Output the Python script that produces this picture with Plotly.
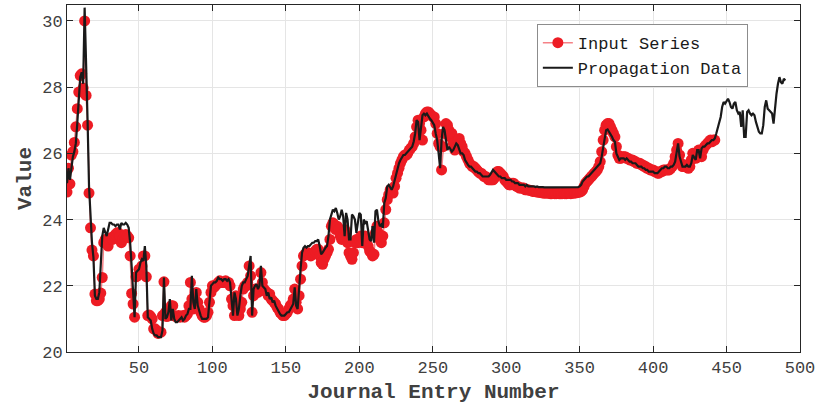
import plotly.graph_objects as go

input_series = [
    24.83, 25.55, 25.08, 25.95, 26.05, 26.33, 26.8, 27.35, 27.85, 28.35,
    28.4, 27.97, 30.0, 27.75, 26.85, 24.8, 23.75, 23.08, 22.9, 21.75,
    21.55, 21.55, 21.6, 21.78, 22.25, 23.3, 23.4, 23.3, 23.2, 23.4,
    23.45, 23.4, 23.5, 23.55, 23.6, 23.6, 23.5, 23.3, 23.4, 23.5,
    23.55, 23.5, 23.45, 22.9, 21.77, 21.45, 21.05, 22.27, 22.3, 22.5,
    22.5, 22.6, 22.9, 22.9, 22.27, 21.1, 21.12, 21.07, 21.0, 20.7,
    20.7, 20.65, 20.56, 20.6, 20.6, 21.1, 22.12, 21.2, 21.07, 21.1,
    21.2, 21.4, 21.4, 21.1, 21.07, 21.07, 21.1, 21.05, 21.07, 21.1,
    21.05, 21.1, 21.15, 21.4, 22.1, 21.6, 21.3, 21.6, 21.8, 21.5,
    21.3, 21.2, 21.1, 21.05, 21.05, 21.1, 21.2, 21.5, 21.8, 22.0,
    21.95, 22.0, 22.05, 22.1, 22.15, 22.1, 22.1, 22.1, 22.15, 22.1,
    22.1, 22.0, 21.6, 21.4, 21.1, 21.7, 21.6, 21.1, 21.3, 21.5,
    21.9, 22.0, 22.0, 22.1, 22.6, 22.3, 21.2, 21.7, 21.9, 21.9,
    21.8, 21.85, 22.4, 22.1, 21.9, 21.85, 21.8, 21.7, 21.75, 21.6,
    21.55, 21.5, 21.45, 21.35, 21.3, 21.2, 21.15, 21.1, 21.1, 21.15,
    21.2, 21.3, 21.4, 21.45, 21.6, 21.9, 21.5, 21.3, 21.7, 22.2,
    22.6, 22.9, 22.95, 23.0, 23.0, 22.95, 22.9, 22.95, 23.0, 23.05,
    23.1, 23.1, 22.9, 22.7, 22.65, 22.8, 22.9, 23.0, 23.1, 23.4,
    23.8, 23.9, 23.85, 23.7, 23.8, 23.7, 23.5, 23.4, 23.5, 23.7,
    23.6, 23.3, 23.0, 22.9, 22.8, 23.0, 23.3, 23.4, 23.3, 23.4,
    23.5, 23.3, 23.4, 23.5, 23.4, 23.2, 23.05, 23.0, 22.9, 22.95,
    23.6, 23.8, 23.6, 23.4, 23.3, 23.5, 23.9, 24.3, 24.6, 24.75,
    24.9, 24.85, 24.8, 25.0, 25.25, 25.4, 25.55, 25.7, 25.8, 25.9,
    25.95, 25.95, 26.0, 26.1, 26.15, 26.2, 26.3, 26.5, 26.8, 27.0,
    26.9, 26.7, 26.4, 27.1, 27.2, 27.25, 27.25, 27.2, 27.15, 27.1,
    27.1, 26.9, 26.6, 26.3, 26.2, 25.5, 26.2, 26.6, 26.9, 26.85,
    26.7, 26.5, 26.6, 26.3, 26.1, 26.2, 26.4, 26.45, 26.3, 26.2,
    26.05, 26.0, 25.9, 25.8, 25.7, 25.65, 25.6, 25.6, 25.55, 25.5,
    25.45, 25.4, 25.4, 25.35, 25.3, 25.3, 25.25, 25.2, 25.2, 25.2,
    25.2, 25.25, 25.35, 25.45, 25.45, 25.4, 25.35, 25.3, 25.2, 25.15,
    25.1, 25.05, 25.05, 25.1, 25.1, 25.05, 25.0, 25.0, 24.95, 24.95,
    24.95, 24.95, 24.9, 24.9, 24.9, 24.88, 24.88, 24.85, 24.85, 24.85,
    24.83, 24.83, 24.82, 24.82, 24.8, 24.8, 24.8, 24.8, 24.8, 24.78,
    24.78, 24.8, 24.78, 24.78, 24.8, 24.78, 24.78, 24.78, 24.8, 24.78,
    24.78, 24.8, 24.8, 24.78, 24.8, 24.8, 24.8, 24.82, 24.82, 24.83,
    24.85, 24.9, 25.0, 25.1, 25.15, 25.2, 25.25, 25.3, 25.35, 25.4,
    25.45, 25.5, 25.6, 25.75, 26.05, 26.4, 26.7, 26.85, 26.9, 26.9,
    26.8, 26.7, 26.6, 26.5, 26.2, 25.95, 25.85, 25.85, 25.9, 25.9,
    25.9, 25.85, 25.85, 25.8, 25.8, 25.8, 25.75, 25.75, 25.7, 25.7,
    25.7, 25.65, 25.65, 25.6, 25.6, 25.55, 25.55, 25.5, 25.5, 25.5,
    25.45, 25.45, 25.4, 25.4, 25.45, 25.45, 25.5, 25.5, 25.5, 25.5,
    25.5, 25.55, 25.6, 25.7, 25.9, 26.1, 26.3, 25.95, 25.7, 25.6,
    25.6, 25.65, 25.6, 25.55, 25.6, 25.8, 26.0, 25.9, 25.85, 26.0,
    26.1, 26.05, 25.9, 26.1, 26.2, 26.25, 26.3, 26.35, 26.4, 26.35,
    26.4, 26.4,
]

propagation_data = [
    25.1, 25.55, 25.2, 25.6, 25.9, 26.05, 26.3, 26.9, 27.5, 28.3,
    28.45, 28.1, 30.4, 28.2, 27.0, 25.0, 24.0, 23.3, 22.85, 21.7,
    21.6, 21.6, 21.8, 22.5, 23.5, 23.75, 23.6, 23.5, 23.7, 23.9,
    23.9, 23.85, 23.85, 23.8, 23.85, 23.85, 23.7, 23.9, 23.85, 23.85,
    23.9, 23.85, 23.75, 23.3, 22.6, 21.6, 21.05, 22.4, 22.45, 22.5,
    22.7, 22.8, 22.75, 23.2, 22.6, 21.05, 21.0, 20.95, 20.7, 20.55,
    20.5, 20.5, 20.45, 20.45, 20.45, 20.65, 22.25, 21.0, 21.05, 21.2,
    21.6, 20.95, 21.3, 21.0, 20.9, 20.9, 20.95, 21.0, 21.05, 20.95,
    21.0, 21.1, 21.15, 21.3, 21.3, 22.3, 21.5, 21.3, 21.9, 21.4,
    21.2, 21.1, 21.0, 21.0, 21.0, 21.0, 21.05, 21.5, 22.0, 22.05,
    22.1, 22.1, 22.15, 22.25, 22.2, 22.2, 22.15, 22.2, 22.2, 22.15,
    22.2, 22.1, 21.5, 21.1, 21.8, 21.6, 21.1, 21.3, 21.7, 22.0,
    22.1, 22.1, 22.2, 22.3, 22.6, 22.9, 21.1, 21.9, 22.0, 22.05,
    21.9, 22.0, 22.6, 22.0, 21.95, 21.9, 21.7, 21.8, 21.6, 21.65,
    21.5, 21.55, 21.4, 21.3, 21.25, 21.15, 21.1, 21.1, 21.1, 21.15,
    21.2, 21.2, 21.3, 21.35, 21.45, 21.95, 21.4, 21.3, 22.0, 22.5,
    23.0, 23.15, 23.2, 23.15, 23.2, 23.2, 23.25, 23.3, 23.3, 23.35,
    23.35, 23.4, 23.2, 22.95, 23.0, 23.1, 23.15, 23.2, 23.5, 24.0,
    24.2, 24.3, 24.25, 24.35, 24.2, 24.0, 24.1, 24.3, 24.1, 23.5,
    24.2, 24.0, 23.4, 23.4, 24.15, 24.1, 24.0, 23.6, 23.9, 24.2,
    24.15, 23.2, 24.0, 23.9, 23.95, 23.7, 23.4, 23.35, 23.8, 23.3,
    24.25, 24.3, 23.95, 23.8, 23.85, 23.75, 24.5, 24.65, 25.0, 25.05,
    24.95, 24.9, 25.0, 25.2, 25.35, 25.5, 25.7, 25.8, 25.9, 25.95,
    25.95, 26.0, 26.05, 26.1, 26.15, 26.2, 26.35, 26.6, 27.0, 26.95,
    26.4, 26.9, 27.15, 27.2, 27.15, 27.2, 27.1, 27.05, 27.0, 26.9,
    26.85, 26.6, 26.4, 26.0, 25.55, 26.4, 26.8, 26.7, 26.3, 26.1,
    26.2, 26.1, 26.05, 26.1, 26.2, 26.3, 26.25, 26.1, 26.0, 26.0,
    25.95, 25.8, 25.7, 25.65, 25.6, 25.6, 25.55, 25.5, 25.45, 25.45,
    25.4, 25.4, 25.35, 25.3, 25.3, 25.3, 25.3, 25.3, 25.35, 25.45,
    25.5, 25.45, 25.4, 25.35, 25.3, 25.3, 25.25, 25.25, 25.25, 25.2,
    25.2, 25.2, 25.2, 25.15, 25.15, 25.1, 25.1, 25.1, 25.05, 25.05,
    25.05, 25.05, 25.0, 25.05, 25.0, 25.0, 25.02, 25.0, 25.0, 24.98,
    25.0, 24.98, 24.98, 25.0, 24.98, 24.97, 24.98, 24.97, 24.97, 24.98,
    24.97, 24.97, 24.97, 24.98, 24.97, 24.97, 24.96, 24.97, 24.97, 24.97,
    24.97, 24.97, 24.96, 24.97, 24.97, 24.97, 24.97, 24.97, 24.98, 25.0,
    25.05, 25.15, 25.2, 25.25, 25.3, 25.3, 25.35, 25.4, 25.45, 25.5,
    25.55, 25.6, 25.65, 25.7, 25.9, 26.2, 26.55, 26.7, 26.72, 26.65,
    26.6, 26.5, 26.4, 26.35, 26.0, 25.9, 25.8, 25.85, 25.85, 25.85,
    25.8, 25.85, 25.8, 25.75, 25.75, 25.7, 25.7, 25.7, 25.65, 25.6,
    25.6, 25.6, 25.55, 25.55, 25.5, 25.5, 25.45, 25.45, 25.45, 25.45,
    25.4, 25.4, 25.4, 25.45, 25.5, 25.55, 25.55, 25.6, 25.6, 25.55,
    25.55, 25.6, 25.6, 25.65, 25.75, 26.0, 26.3, 25.9, 25.7, 25.6,
    25.6, 25.6, 25.65, 25.6, 25.6, 25.7, 25.95, 25.85, 25.8, 26.1,
    26.1, 25.85, 26.15, 26.2, 26.2, 26.25, 26.3, 26.3, 26.35, 26.4,
    26.4, 26.45, 26.6, 26.75, 26.9, 27.1, 27.4, 27.55, 27.5, 27.6,
    27.65, 27.55, 27.4, 27.35, 27.5, 27.55, 27.3, 27.2, 27.25, 26.8,
    27.3, 26.5, 26.5, 27.25, 27.3, 27.2, 27.15, 27.2, 27.15, 26.95,
    26.75, 26.65, 26.6, 26.6, 26.85, 27.4, 27.6, 27.35, 27.3, 27.25,
    27.2, 26.9, 27.4, 27.8, 28.1, 28.3, 28.15, 28.1, 28.25, 28.2,
]

x_input = list(range(1, len(input_series) + 1))
x_prop = list(range(1, len(propagation_data) + 1))

x_ticks = [50, 100, 150, 200, 250, 300, 350, 400, 450, 500]
y_ticks = [20, 22, 24, 26, 28, 30]

FONT = "Courier New, Liberation Mono, monospace"
AXCOL = "#262626"
TXTCOL = "#404040"

fig = go.Figure()
fig.add_trace(go.Scatter(
    x=x_input, y=input_series, name="Input Series", mode="lines+markers",
    line=dict(color="rgba(237,28,36,0.55)", width=1.5),
    marker=dict(color="rgb(237,28,36)", size=11),
))
fig.add_trace(go.Scatter(
    x=x_prop, y=propagation_data, name="Propagation Data", mode="lines",
    line=dict(color="#1a1a1a", width=2.2),
))

axis_common = dict(
    showline=True, linecolor=AXCOL, linewidth=1, mirror="ticks",
    ticks="inside", ticklen=6, tickcolor=AXCOL,
    showgrid=True, gridcolor="#e5e5e5", gridwidth=1,
    zeroline=False, automargin=False,
    tickfont=dict(family=FONT, size=17, color=TXTCOL),
)

fig.update_xaxes(
    range=[1, 500], tickvals=x_ticks,
    title=dict(text="<b>Journal Entry Number</b>",
               font=dict(family=FONT, size=21, color=TXTCOL)),
    **axis_common,
)
fig.update_yaxes(
    range=[20, 30.48], tickvals=y_ticks,
    title=dict(text="<b>Value</b>", standoff=4,
               font=dict(family=FONT, size=21, color=TXTCOL)),
    **axis_common,
)

fig.update_layout(
    width=818, height=404,
    margin=dict(l=67, r=18, t=5, b=52),
    paper_bgcolor="white", plot_bgcolor="white",
    showlegend=True,
    legend=dict(
        x=0.641, y=0.945, xanchor="left", yanchor="top",
        bgcolor="white", bordercolor="#8c8c8c", borderwidth=1,
        font=dict(family=FONT, size=17, color="#1a1a1a"),
        tracegroupgap=0, itemwidth=30,
    ),
)

fig.write_html("out.html", config={"displayModeBar": False},
               post_script="document.body.style.margin='0';")
